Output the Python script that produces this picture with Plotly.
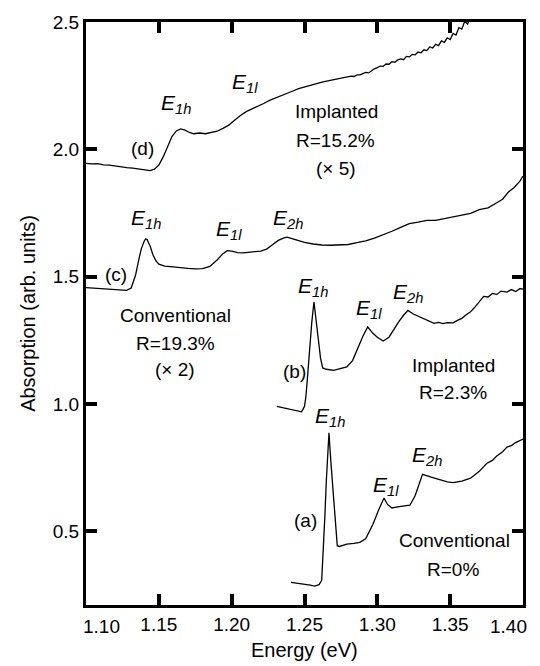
import plotly.graph_objects as go

# ---------------- data ----------------
# (d) Implanted R=15.2% (x5)
energy_d = [1.100, 1.104, 1.108, 1.112, 1.116, 1.120, 1.124, 1.128, 1.132, 1.136,
            1.140, 1.144, 1.147, 1.150, 1.153, 1.156, 1.159, 1.162, 1.165, 1.168,
            1.171, 1.174, 1.178, 1.182, 1.186, 1.190, 1.194, 1.198, 1.202, 1.206,
            1.210, 1.214, 1.218, 1.222, 1.226, 1.230, 1.234, 1.238, 1.242, 1.246,
            1.250, 1.254, 1.258, 1.262, 1.266, 1.270, 1.274, 1.277,
            1.280, 1.282, 1.284, 1.286, 1.288, 1.290, 1.292, 1.294, 1.296, 1.298,
            1.300, 1.302, 1.304, 1.306, 1.308, 1.310, 1.312, 1.314, 1.316, 1.318,
            1.320, 1.322, 1.324, 1.326, 1.328, 1.330, 1.332, 1.334, 1.336, 1.338,
            1.340, 1.342, 1.344, 1.346, 1.348, 1.350, 1.352, 1.354, 1.356, 1.358,
            1.360, 1.362, 1.364]
absorb_d = [1.945, 1.943, 1.944, 1.939, 1.938, 1.934, 1.932, 1.928, 1.926, 1.923,
            1.920, 1.916, 1.922, 1.938, 1.970, 2.010, 2.050, 2.072, 2.080, 2.075,
            2.066, 2.061, 2.064, 2.061, 2.066, 2.071, 2.082, 2.095, 2.114, 2.133,
            2.148, 2.158, 2.170, 2.180, 2.192, 2.202, 2.212, 2.220, 2.229, 2.238,
            2.245, 2.252, 2.259, 2.264, 2.269, 2.274, 2.277, 2.281,
            2.284, 2.287, 2.286, 2.292, 2.292, 2.296, 2.302, 2.300, 2.309, 2.316,
            2.321, 2.327, 2.326, 2.335, 2.334, 2.344, 2.342, 2.351, 2.355, 2.352,
            2.365, 2.363, 2.373, 2.371, 2.382, 2.379, 2.391, 2.388, 2.402, 2.398,
            2.412, 2.407, 2.426, 2.420, 2.438, 2.431, 2.455, 2.449, 2.478, 2.472,
            2.503, 2.492, 2.520]

# (c) Conventional R=19.3% (x2)
energy_c = [1.100, 1.105, 1.110, 1.115, 1.120, 1.125, 1.128, 1.131, 1.134, 1.136,
            1.138, 1.140, 1.141, 1.142, 1.144, 1.146, 1.148, 1.150, 1.154, 1.158,
            1.162, 1.166, 1.170, 1.175, 1.180, 1.185, 1.190, 1.194, 1.197, 1.200,
            1.204, 1.208, 1.212, 1.216, 1.220, 1.224, 1.228, 1.232, 1.236, 1.238,
            1.242, 1.246, 1.250, 1.256, 1.262, 1.268, 1.274, 1.280, 1.286, 1.292,
            1.298, 1.304, 1.310, 1.316, 1.322, 1.328, 1.334, 1.340, 1.346, 1.352,
            1.358, 1.364, 1.370, 1.376, 1.382, 1.386, 1.390, 1.394, 1.398, 1.400]
absorb_c = [1.457, 1.455, 1.454, 1.451, 1.450, 1.447, 1.446, 1.455, 1.505, 1.560,
            1.610, 1.640, 1.648, 1.645, 1.620, 1.585, 1.562, 1.549, 1.541, 1.539,
            1.536, 1.535, 1.532, 1.530, 1.531, 1.540, 1.565, 1.590, 1.602, 1.600,
            1.594, 1.593, 1.594, 1.598, 1.600, 1.608, 1.625, 1.642, 1.652, 1.655,
            1.648, 1.640, 1.634, 1.628, 1.624, 1.623, 1.624, 1.626, 1.633, 1.640,
            1.651, 1.663, 1.678, 1.693, 1.708, 1.714, 1.721, 1.721, 1.728, 1.733,
            1.742, 1.748, 1.763, 1.770, 1.790, 1.804, 1.832, 1.850, 1.876, 1.895]

# (b) Implanted R=2.3%
energy_b = [1.231, 1.235, 1.240, 1.244, 1.248, 1.250, 1.251, 1.252, 1.253, 1.254,
            1.255, 1.2565, 1.258, 1.2595, 1.261, 1.2625, 1.265, 1.270, 1.275, 1.279,
            1.283, 1.286, 1.290, 1.2934, 1.297, 1.300, 1.304, 1.308, 1.311, 1.315,
            1.318, 1.321, 1.325, 1.329, 1.332, 1.335, 1.339, 1.342, 1.345, 1.348,
            1.352, 1.355, 1.358, 1.361, 1.364, 1.367, 1.370, 1.373, 1.376, 1.379,
            1.382, 1.385, 1.389, 1.392, 1.395, 1.398, 1.400]
absorb_b = [0.990, 0.985, 0.978, 0.973, 0.969, 0.990, 1.031, 1.100, 1.180, 1.238,
            1.320, 1.400, 1.330, 1.238, 1.180, 1.141, 1.136, 1.132, 1.138, 1.145,
            1.170, 1.212, 1.265, 1.302, 1.277, 1.262, 1.247, 1.262, 1.290, 1.325,
            1.348, 1.367, 1.352, 1.341, 1.333, 1.326, 1.316, 1.320, 1.315, 1.319,
            1.318, 1.328, 1.336, 1.350, 1.362, 1.380, 1.400, 1.422, 1.420, 1.434,
            1.430, 1.443, 1.439, 1.449, 1.441, 1.453, 1.451]

# (a) Conventional R=0%
energy_a = [1.2407, 1.245, 1.250, 1.254, 1.257, 1.260, 1.2618, 1.263, 1.264, 1.265,
            1.266, 1.2668, 1.268, 1.269, 1.270, 1.271, 1.2725, 1.274, 1.279, 1.284,
            1.288, 1.292, 1.297, 1.301, 1.3046, 1.307, 1.310, 1.315, 1.3224, 1.326,
            1.328, 1.331, 1.337, 1.343, 1.348, 1.352, 1.358, 1.364, 1.370, 1.375,
            1.379, 1.382, 1.386, 1.389, 1.392, 1.395, 1.398, 1.400]
absorb_a = [0.299, 0.296, 0.292, 0.288, 0.284, 0.290, 0.307, 0.420, 0.560, 0.700,
            0.820, 0.886, 0.780, 0.700, 0.617, 0.540, 0.443, 0.440, 0.449, 0.452,
            0.456, 0.470, 0.527, 0.585, 0.630, 0.605, 0.591, 0.596, 0.602, 0.640,
            0.675, 0.723, 0.712, 0.701, 0.694, 0.691, 0.697, 0.708, 0.735, 0.766,
            0.778, 0.795, 0.812, 0.830, 0.836, 0.848, 0.856, 0.862]

x_tickvals = [1.10, 1.15, 1.20, 1.25, 1.30, 1.35, 1.40]
x_ticktext = ["", "1.15", "1.20", "1.25", "1.30", "1.35", ""]
y_tickvals = [0.5, 1.0, 1.5, 2.0, 2.5]
y_ticktext = ["0.5", "1.0", "1.5", "2.0", "2.5"]

X_RANGE = [1.10, 1.40]
Y_RANGE = [0.21, 2.5]

FONT = "Liberation Sans, Arial, Helvetica, sans-serif"
W, H = 540, 666
M = dict(l=86, r=17, t=14, b=61)
PLOT_W = W - M["l"] - M["r"]

fig = go.Figure()
for ex, ab in [(energy_d, absorb_d), (energy_c, absorb_c), (energy_b, absorb_b), (energy_a, absorb_a)]:
    fig.add_trace(go.Scatter(x=ex, y=ab, mode="lines",
                             line=dict(color="black", width=1.3),
                             showlegend=False, hoverinfo="skip"))

def E(sub):
    return "<i>E</i><sub><i>%s</i></sub>" % sub

labels = [
    # (text, x, y, size)
    (E("1h"), 1.1618, 2.176, 21),
    (E("1l"), 1.2092, 2.262, 21),
    ("(d)", 1.1391, 2.002, 19),
    ("Implanted", 1.2723, 2.149, 19),
    ("R=15.2%", 1.2716, 2.033, 19),
    ("(× 5)", 1.2716, 1.924, 19),
    (E("1h"), 1.1412, 1.726, 21),
    (E("1l"), 1.1982, 1.684, 21),
    (E("2h"), 1.2387, 1.726, 21),
    ("(c)", 1.1206, 1.509, 19),
    ("Conventional", 1.1611, 1.346, 19),
    ("R=19.3%", 1.1611, 1.238, 19),
    ("(× 2)", 1.1611, 1.137, 19),
    (E("1h"), 1.2558, 1.459, 21),
    (E("1l"), 1.2943, 1.373, 21),
    (E("2h"), 1.3211, 1.436, 21),
    ("(b)", 1.2428, 1.129, 19),
    ("Implanted", 1.3526, 1.149, 19),
    ("R=2.3%", 1.3519, 1.044, 19),
    (E("1h"), 1.2675, 0.947, 21),
    (E("1l"), 1.3060, 0.679, 21),
    (E("2h"), 1.3341, 0.796, 21),
    ("(a)", 1.2510, 0.540, 19),
    ("Conventional", 1.3533, 0.462, 19),
    ("R=0%", 1.3519, 0.350, 19),
]
annotations = []
for t, x, y, s in labels:
    annotations.append(dict(text=t, x=x, y=y, xref="x", yref="y", showarrow=False,
                            xanchor="center", yanchor="middle",
                            font=dict(family=FONT, size=s, color="black")))
# end tick labels of x axis (shifted inward in the reference)
annotations.append(dict(text="1.10", x=(101 - 86) / PLOT_W, y=-0.037, xref="paper", yref="paper",
                        showarrow=False, xanchor="center", yanchor="middle",
                        font=dict(family=FONT, size=19, color="black")))
annotations.append(dict(text="1.40", x=(508 - 86) / PLOT_W, y=-0.037, xref="paper", yref="paper",
                        showarrow=False, xanchor="center", yanchor="middle",
                        font=dict(family=FONT, size=19, color="black")))
# x axis title
annotations.append(dict(text="Energy (eV)", x=0.5, y=-0.078, xref="paper", yref="paper",
                        showarrow=False, xanchor="center", yanchor="middle",
                        font=dict(family=FONT, size=20, color="black")))

axis_common = dict(showline=True, linecolor="black", linewidth=3, mirror="ticks",
                   ticks="inside", ticklen=11, tickwidth=3.5, tickcolor="black",
                   showgrid=False, zeroline=False,
                   tickfont=dict(family=FONT, size=19, color="black"))

fig.update_layout(
    width=W, height=H,
    margin=M,
    paper_bgcolor="white", plot_bgcolor="white",
    annotations=annotations,
    xaxis=dict(range=X_RANGE, tickvals=x_tickvals, ticktext=x_ticktext, **axis_common),
    yaxis=dict(range=Y_RANGE, tickvals=y_tickvals, ticktext=y_ticktext,
               title=dict(text="Absorption (arb. units)", font=dict(family=FONT, size=20, color="black"), standoff=12),
               **axis_common),
)

fig.write_html("out.html")
